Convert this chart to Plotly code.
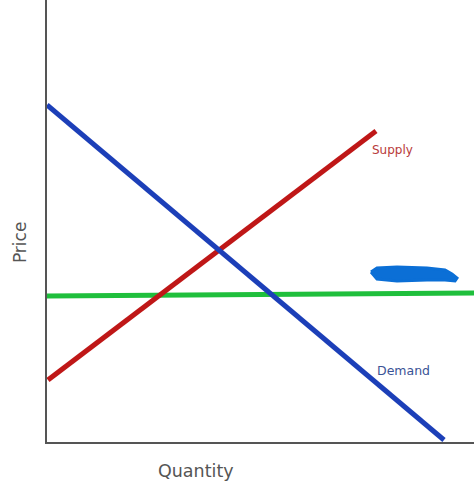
import plotly.graph_objects as go

# Data (in plot units: x from left axis, y up from bottom axis)
supply_x = [1, 329]
supply_y = [62, 311]
demand_x = [0, 397]
demand_y = [337, 2]
price_x = [0, 427]
price_y = [146, 149]

labels = ["Supply", "Demand"]
label_x = [323, 328]
label_y = [292, 72]

scribble_x = [324, 330, 350, 380, 398, 405, 410, 408, 398, 380, 350, 330, 324]
scribble_y = [170, 174, 175, 174, 172, 168, 164, 161, 162, 162, 161, 163, 170]

axis_titles = ["Quantity", "Price"]

fig = go.Figure()
fig.add_trace(go.Scatter(x=price_x, y=price_y, mode="lines",
                         line=dict(color="#1fbf3c", width=5), hoverinfo="skip"))
fig.add_trace(go.Scatter(x=supply_x, y=supply_y, mode="lines",
                         line=dict(color="#bf1717", width=5), hoverinfo="skip"))
fig.add_trace(go.Scatter(x=demand_x, y=demand_y, mode="lines",
                         line=dict(color="#1c3fb8", width=5), hoverinfo="skip"))
fig.add_trace(go.Scatter(x=scribble_x, y=scribble_y, mode="lines", fill="toself",
                         fillcolor="#0b6fd6", line=dict(color="#0b6fd6", width=3),
                         hoverinfo="skip"))

fig.add_annotation(x=label_x[0], y=label_y[0], text=labels[0], showarrow=False,
                   xanchor="left", font=dict(family="DejaVu Sans", size=12, color="#b83a3a"))
fig.add_annotation(x=label_x[1], y=label_y[1], text=labels[1], showarrow=False,
                   xanchor="left", font=dict(family="DejaVu Sans", size=12.5, color="#3a5396"))

fig.add_annotation(xref="paper", yref="paper", x=0.349, y=-0.0656, text=axis_titles[0],
                   showarrow=False, xanchor="center", yanchor="middle",
                   font=dict(family="DejaVu Sans", size=17.5, color="#555555"))
fig.add_annotation(xref="paper", yref="paper", x=-0.0632, y=0.450, text=axis_titles[1],
                   showarrow=False, xanchor="center", yanchor="middle", textangle=-90,
                   font=dict(family="DejaVu Sans", size=17, color="#555555"))

fig.update_layout(
    width=474, height=490,
    margin=dict(l=47, r=0, t=0, b=48, autoexpand=False),
    paper_bgcolor="white", plot_bgcolor="white",
    showlegend=False,
    xaxis=dict(range=[0, 427], showgrid=False, zeroline=False, showticklabels=False,
               ticks="", showline=True, linecolor="#555555", linewidth=2),
    yaxis=dict(range=[0, 442], showgrid=False, zeroline=False, showticklabels=False,
               ticks="", showline=True, linecolor="#555555", linewidth=2),
)

fig.write_html("out.html", config={"displayModeBar": False})

with open("out.html", "r", encoding="utf-8") as f:
    html = f.read()
html = html.replace("<head>", "<head><style>html,body{margin:0;padding:0;overflow:hidden}</style>", 1)
with open("out.html", "w", encoding="utf-8") as f:
    f.write(html)
